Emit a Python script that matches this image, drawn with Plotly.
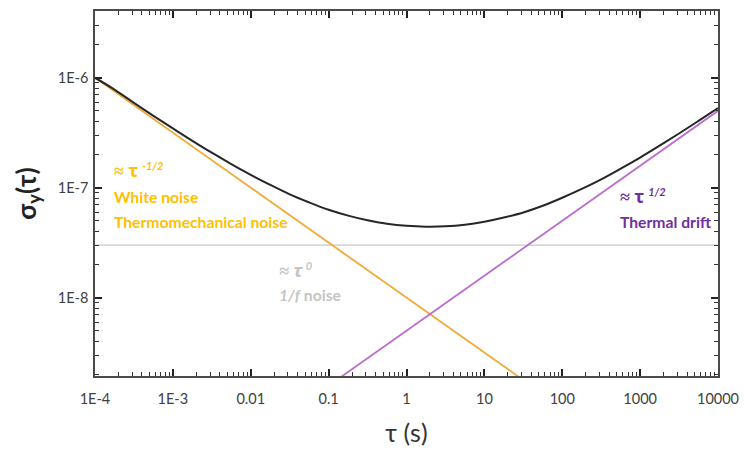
import plotly.graph_objects as go

# Allan deviation: measured total curve and the three noise asymptotes
tau_total = [1e-4, 1.78e-4, 3.16e-4, 5.62e-4, 1e-3, 1.78e-3, 3.16e-3, 5.62e-3,
             1e-2, 1.78e-2, 3.16e-2, 5.62e-2, 0.1, 0.178, 0.316, 0.562,
             1, 1.78, 3.16, 5.62, 10, 17.8, 31.6, 56.2,
             100, 178, 316, 562, 1000, 1780, 3160, 5620, 10000]
sigma_total = [1.0e-6, 7.8e-7, 5.9e-7, 4.5e-7, 3.46e-7, 2.67e-7, 2.08e-7, 1.64e-7,
               1.31e-7, 1.06e-7, 8.7e-8, 7.35e-8, 6.3e-8, 5.57e-8, 5.05e-8, 4.7e-8,
               4.5e-8, 4.42e-8, 4.45e-8, 4.6e-8, 4.9e-8, 5.35e-8, 5.95e-8, 6.85e-8,
               8.1e-8, 9.74e-8, 1.19e-7, 1.49e-7, 1.88e-7, 2.41e-7, 3.11e-7, 4.05e-7, 5.3e-7]

white_tau = [1e-4, 100]
white_sigma = [1e-6, 1e-9]

flicker_tau = [1e-4, 1e4]
flicker_sigma = [3e-8, 3e-8]

drift_tau = [0.1, 1e4]
drift_sigma = [1.58e-9, 5.0e-7]

x_tickvals = [1e-4, 1e-3, 1e-2, 1e-1, 1, 10, 100, 1000, 10000]
x_ticktext = ["1E-4", "1E-3", "0.01", "0.1", "1", "10", "100", "1000", "10000"]
y_tickvals = [1e-8, 1e-7, 1e-6]
y_ticktext = ["1E-8", "1E-7", "1E-6"]

ORANGE = "#F2AA3A"
PURPLE = "#BC6ECE"
GRAY = "#C8C8C8"
TXT_ORANGE = "#FFC000"
TXT_PURPLE = "#7030A0"
TXT_GRAY = "#C4C4C4"

fig = go.Figure()
fig.add_trace(go.Scatter(x=flicker_tau, y=flicker_sigma, mode="lines",
                         line=dict(color=GRAY, width=1.3), hoverinfo="skip"))
fig.add_trace(go.Scatter(x=white_tau, y=white_sigma, mode="lines",
                         line=dict(color=ORANGE, width=1.8), hoverinfo="skip"))
fig.add_trace(go.Scatter(x=drift_tau, y=drift_sigma, mode="lines",
                         line=dict(color=PURPLE, width=1.8), hoverinfo="skip"))
fig.add_trace(go.Scatter(x=tau_total, y=sigma_total, mode="lines",
                         line=dict(color="#262626", width=2.0, shape="spline"),
                         hoverinfo="skip"))


def minor_vals(lo, hi):
    return [m * 10 ** e for e in range(lo, hi) for m in range(2, 10)]


axis_common = dict(
    type="log", showgrid=False, zeroline=False,
    showline=True, linecolor="#4A4A4A", linewidth=1.5, mirror="allticks",
    ticks="inside", ticklen=7, tickwidth=1.6, tickcolor="#222222",
    tickfont=dict(family="Lato", size=14.5, color="#404040"),
)

fig.update_xaxes(
    **axis_common, range=[-4, 4],
    tickmode="array", tickvals=x_tickvals, ticktext=x_ticktext,
    ticklabelstandoff=9,
    minor=dict(tickmode="array", tickvals=minor_vals(-4, 4), ticks="inside",
               ticklen=4, tickcolor="#333333", tickwidth=1.2),
    title=dict(text="τ (s)", font=dict(family="Lato", size=25, color="#333333"),
               standoff=18),
)
fig.update_yaxes(
    **axis_common, range=[-8.713, -5.393],
    tickmode="array", tickvals=y_tickvals, ticktext=y_ticktext,
    ticklabelstandoff=2,
    minor=dict(tickmode="array", tickvals=minor_vals(-9, -5), ticks="inside",
               ticklen=4, tickcolor="#333333", tickwidth=1.2),
    title=dict(text="<b>σ<sub>y</sub>(τ)</b>",
               font=dict(family="Lato", size=26, color="#222222"), standoff=14),
)

SYM = "<span style=\"font-family:'Noto Sans';font-size:18px\">≈ τ</span>"


def note(text, x, y, color):
    fig.add_annotation(text=text, x=x, y=y, xref="paper", yref="paper",
                       xanchor="left", yanchor="middle", showarrow=False,
                       font=dict(family="Lato", size=15.7, color=color))


note(f"<b>{SYM} <sup><i>-1/2</i></sup></b>", 0.027, 0.565, TXT_ORANGE)
note("<b>White noise</b>", 0.027, 0.490, TXT_ORANGE)
note("<b>Thermomechanical noise</b>", 0.027, 0.4226, TXT_ORANGE)

note(f"<b>{SYM} <sup><i>1/2</i></sup></b>", 0.840, 0.494, TXT_PURPLE)
note("<b>Thermal drift</b>", 0.840, 0.4226, TXT_PURPLE)

note(f"<b><i>{SYM} <sup>0</sup></i></b>", 0.292, 0.291, TXT_GRAY)
note("<b><i>1/f</i> noise</b>", 0.292, 0.2215, TXT_GRAY)

fig.update_layout(
    width=748, height=452,
    margin=dict(l=95, r=26, t=9, b=76),
    paper_bgcolor="white", plot_bgcolor="white",
    showlegend=False,
)

fig.write_html("out.html")
